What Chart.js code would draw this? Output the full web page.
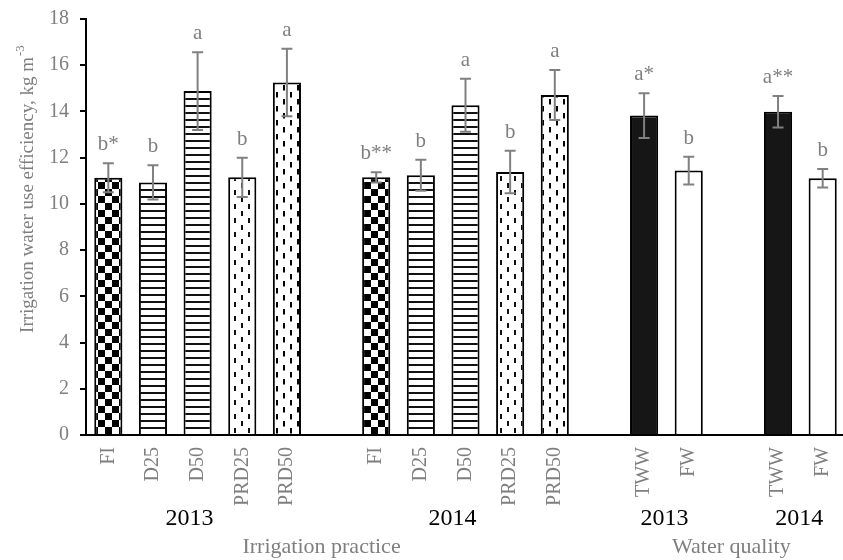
<!DOCTYPE html>
<html>
<head>
<meta charset="utf-8">
<script src="https://cdn.jsdelivr.net/npm/chart.js@4/dist/chart.umd.min.js"></script>
<style>
  html, body { margin: 0; padding: 0; background: #fff; overflow: hidden; }
  canvas { display: block; }
</style>
</head>
<body>
<canvas id="c" width="845" height="560"></canvas>
<script>
// Irrigation water use efficiency (kg m-3), mean ± error, with significance letters
const practice = ['FI', 'D25', 'D50', 'PRD25', 'PRD50'];
const quality = ['TWW', 'FW'];

const practice2013 = [11.13, 10.93, 14.88, 11.15, 15.25];
const practiceErr2013 = [0.63, 0.74, 1.68, 0.85, 1.46];
const practiceSig2013 = ['b*', 'b', 'a', 'b', 'a'];

const practice2014 = [11.15, 11.24, 14.27, 11.38, 14.71];
const practiceErr2014 = [0.22, 0.67, 1.15, 0.92, 1.08];
const practiceSig2014 = ['b**', 'b', 'a', 'b', 'a'];

const quality2013 = [13.82, 11.44];
const qualityErr2013 = [0.97, 0.60];
const qualitySig2013 = ['a*', 'b'];

const quality2014 = [13.99, 11.11];
const qualityErr2014 = [0.68, 0.40];
const qualitySig2014 = ['a**', 'b'];

const yearLabels = ['2013', '2014', '2013', '2014'];
const sectionLabels = ['Irrigation practice', 'Water quality'];
const yTitle = 'Irrigation water use efficiency, kg m';
const yTitleSup = '-3';

// Category slots: an empty slot separates each year block
const labels = [...practice, '', ...practice, '', ...quality, '', ...quality];
const values = [...practice2013, null, ...practice2014, null, ...quality2013, null, ...quality2014];
const errors = [...practiceErr2013, null, ...practiceErr2014, null, ...qualityErr2013, null, ...qualityErr2014];
const letters = [...practiceSig2013, null, ...practiceSig2014, null, ...qualitySig2013, null, ...qualitySig2014];

// index ranges of the year blocks and of the two sections
const yearBlocks = [[0, 4], [6, 10], [12, 13], [15, 16]];
const yearNudge = [-8, -13, -2, -1];
const sections = [[0, 10], [12, 16]];
const sectionNudge = [-10, -2];

const SERIF = '"Liberation Serif", "Times New Roman", serif';
const GREY = '#7f7f7f';

function makePattern(w, h, draw) {
  const c = document.createElement('canvas');
  c.width = w; c.height = h;
  const g = c.getContext('2d');
  g.fillStyle = '#fff';
  g.fillRect(0, 0, w, h);
  draw(g);
  return document.getElementById('c').getContext('2d').createPattern(c, 'repeat');
}

const checker = makePattern(14, 14, g => {
  g.fillStyle = '#000';
  g.fillRect(0, 0, 7, 7);
  g.fillRect(7, 7, 7, 7);
});
const hStripes = makePattern(8, 7, g => {
  g.fillStyle = '#111';
  g.fillRect(0, 0, 8, 2);
});
const dashLight = makePattern(14, 14, g => {
  g.fillStyle = '#111';
  g.fillRect(3, 1, 2, 5);
  g.fillRect(10, 8, 2, 5);
});
const dashDark = makePattern(14, 14, g => {
  g.fillStyle = '#000';
  g.fillRect(3, 1, 2, 5.5);
  g.fillRect(10, 8, 2, 5.5);
});

const fillFor = {
  FI: checker, D25: hStripes, D50: hStripes,
  PRD25: dashLight, PRD50: dashDark,
  TWW: '#161616', FW: '#ffffff', '': 'rgba(0,0,0,0)'
};

const errorBars = {
  id: 'errorBars',
  afterDatasetsDraw(chart) {
    const ctx = chart.ctx;
    const y = chart.scales.y;
    const meta = chart.getDatasetMeta(0);
    ctx.save();
    ctx.strokeStyle = '#808080';
    ctx.lineWidth = 2;
    ctx.fillStyle = GREY;
    ctx.font = '21px ' + SERIF;
    ctx.textAlign = 'center';
    ctx.textBaseline = 'alphabetic';
    meta.data.forEach((bar, i) => {
      if (values[i] == null) return;
      const x = bar.x;
      const top = y.getPixelForValue(values[i] + errors[i]);
      const bot = y.getPixelForValue(values[i] - errors[i]);
      ctx.beginPath();
      ctx.moveTo(x, top); ctx.lineTo(x, bot);
      ctx.moveTo(x - 5.5, top); ctx.lineTo(x + 5.5, top);
      ctx.moveTo(x - 5.5, bot); ctx.lineTo(x + 5.5, bot);
      ctx.stroke();
      ctx.fillText(letters[i], x, top - 13);
    });
    ctx.restore();
  }
};

const groupLabels = {
  id: 'groupLabels',
  afterDraw(chart) {
    const ctx = chart.ctx;
    const x = chart.scales.x;
    const area = chart.chartArea;
    ctx.save();
    ctx.textAlign = 'center';
    ctx.textBaseline = 'alphabetic';
    ctx.font = '24px ' + SERIF;
    ctx.fillStyle = '#000';
    yearBlocks.forEach(([a, b], k) => {
      const cx = (x.getPixelForValue(a) + x.getPixelForValue(b)) / 2 + yearNudge[k];
      ctx.fillText(yearLabels[k], cx, area.bottom + 90);
    });
    ctx.font = '22px ' + SERIF;
    ctx.fillStyle = GREY;
    sections.forEach(([a, b], k) => {
      const cx = (x.getPixelForValue(a) + x.getPixelForValue(b)) / 2 + sectionNudge[k];
      ctx.fillText(sectionLabels[k], cx, area.bottom + 118);
    });

    // rotated y-axis title with superscript exponent
    const cy = area.top + (area.bottom - area.top) * 0.41;
    ctx.translate(27, cy);
    ctx.rotate(-Math.PI / 2);
    ctx.font = '19px ' + SERIF;
    const wMain = ctx.measureText(yTitle).width;
    ctx.font = '13px ' + SERIF;
    const wSup = ctx.measureText(yTitleSup).width;
    const start = -(wMain + wSup) / 2;
    ctx.textAlign = 'left';
    ctx.textBaseline = 'middle';
    ctx.font = '19px ' + SERIF;
    ctx.fillText(yTitle, start, 1);
    ctx.font = '13px ' + SERIF;
    ctx.fillText(yTitleSup, start + wMain + 1, -6);
    ctx.restore();
  }
};

new Chart(document.getElementById('c'), {
  type: 'bar',
  data: {
    labels: labels,
    datasets: [{
      data: values,
      backgroundColor: labels.map(l => fillFor[l]),
      borderColor: '#000',
      borderWidth: 2,
      barPercentage: 0.63,
      categoryPercentage: 1.0
    }]
  },
  options: {
    responsive: false,
    animation: false,
    devicePixelRatio: 1,
    layout: { padding: { top: 19, left: 0, right: 0, bottom: 0 } },
    plugins: { legend: { display: false }, tooltip: { enabled: false } },
    scales: {
      x: {
        grid: { display: true, drawOnChartArea: false, drawTicks: false },
        border: { display: true, color: '#000', width: 2 },
        ticks: {
          minRotation: 90, maxRotation: 90, autoSkip: false, padding: 12,
          color: GREY, font: { family: SERIF, size: 20 }
        },
        afterFit(scale) {
          scale.height = 125;
          scale.paddingLeft = 0;
          scale.paddingRight = 0;
        }
      },
      y: {
        min: 0, max: 18,
        grid: { display: true, drawOnChartArea: false, drawTicks: true, tickLength: 6, color: '#000', lineWidth: 2 },
        border: { display: true, color: '#000', width: 2 },
        ticks: { stepSize: 2, padding: 11, color: GREY, font: { family: SERIF, size: 20 } },
        afterFit(scale) {
          scale.width = 86;
          scale.paddingTop = 0;
          scale.paddingBottom = 0;
        }
      }
    }
  },
  plugins: [errorBars, groupLabels]
});
</script>
</body>
</html>
